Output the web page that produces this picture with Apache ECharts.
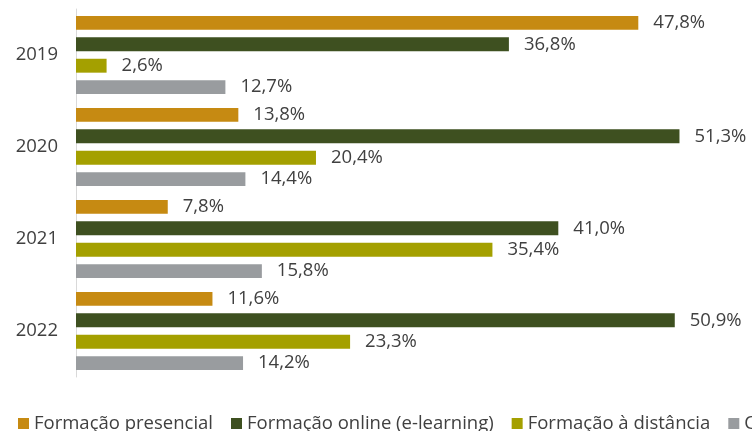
<!DOCTYPE html>
<html>
<head>
<meta charset="utf-8">
<script src="https://cdn.jsdelivr.net/npm/echarts@6/dist/echarts.min.js"></script>
<style>
  html, body { margin: 0; padding: 0; background: #fff; }
  #main { width: 752px; height: 431px; }
</style>
</head>
<body>
<div id="main"></div>
<script>
// dados
const anos = ['2019', '2020', '2021', '2022'];
const presencial = [47.8, 13.8, 7.8, 11.6];
const online = [36.8, 51.3, 41.0, 50.9];
const distancia = [2.6, 20.4, 35.4, 23.3];
const outros = [12.7, 14.4, 15.8, 14.2];

const chart = echarts.init(document.getElementById('main'));

const font = '"Open Sans", "Noto Sans", sans-serif';

function serie(name, data, color) {
  return {
    name: name,
    type: 'bar',
    data: data,
    barGap: '54%',
    barCategoryGap: '15%',
    itemStyle: { color: color },
    label: {
      show: true,
      position: 'right',
      distance: 15,
      color: '#404040',
      fontSize: 18.5,
      fontFamily: font,
      formatter: function (p) { return p.value.toFixed(1).replace('.', ',') + '%'; }
    }
  };
}

chart.setOption({
  animation: false,
  textStyle: { fontFamily: font },
  grid: { left: 76, top: 9, width: 647, height: 368 },
  legend: {
    left: 13,
    top: 409,
    width: 2000,
    itemWidth: 11,
    itemHeight: 11,
    itemGap: 18,
    icon: 'rect',
    textStyle: { fontSize: 18.5, color: '#404040', fontFamily: font },
    data: ['Formação presencial', 'Formação online (e-learning)', 'Formação à distância', 'Outros']
  },
  xAxis: {
    type: 'value',
    min: 0,
    max: 55,
    show: false
  },
  yAxis: {
    type: 'category',
    data: anos,
    inverse: true,
    axisLine: { lineStyle: { color: '#d9d9d9', width: 1 } },
    axisTick: { show: false },
    axisLabel: { color: '#404040', fontSize: 18.5, margin: 18, fontFamily: font }
  },
  series: [
    serie('Formação presencial', presencial, '#c68a12'),
    serie('Formação online (e-learning)', online, '#3e5020'),
    serie('Formação à distância', distancia, '#a4a000'),
    serie('Outros', outros, '#999c9f')
  ]
});
</script>
</body>
</html>
